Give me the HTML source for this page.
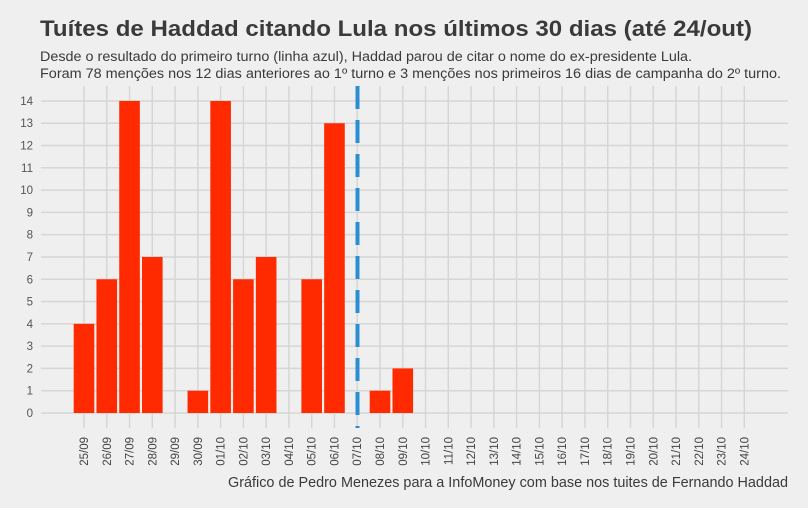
<!DOCTYPE html>
<html><head><meta charset="utf-8"><style>
html,body{margin:0;padding:0;background:#efefef;}
svg{display:block;font-family:"Liberation Sans",sans-serif;}
</style></head><body>
<svg width="808" height="508" viewBox="0 0 808 508" xmlns="http://www.w3.org/2000/svg">
<rect width="808" height="508" fill="#efefef"/>
<text x="40" y="36" font-size="22" font-weight="bold" fill="#3a3a3a" textLength="712" lengthAdjust="spacingAndGlyphs">Tuítes de Haddad citando Lula nos últimos 30 dias (até 24/out)</text>
<text x="40" y="61" font-size="13.5" fill="#3a3a3a" textLength="652" lengthAdjust="spacingAndGlyphs">Desde o resultado do primeiro turno (linha azul), Haddad parou de citar o nome do ex-presidente Lula.</text>
<text x="40" y="78" font-size="13.5" fill="#3a3a3a" textLength="741" lengthAdjust="spacingAndGlyphs">Foram 78 menções nos 12 dias anteriores ao 1º turno e 3 menções nos primeiros 16 dias de campanha do 2º turno.</text>
<g id="grid" stroke="#d6d6d6" stroke-width="1.5"></g>
<g id="ylab" font-size="11.5" fill="#555" text-anchor="end"></g>
<g id="bars" fill="#ff2a00"></g>
<line x1="357.5" y1="86" x2="357.5" y2="428" stroke="#2a8fd0" stroke-width="4" stroke-dasharray="23 11"/>
<g id="xlab" font-size="11.5" fill="#444"></g>
<text x="228" y="487" font-size="14.5" fill="#3a3a3a" textLength="560" lengthAdjust="spacingAndGlyphs">Gráfico de Pedro Menezes para a InfoMoney com base nos tuites de Fernando Haddad</text>
<script>
var ns="http://www.w3.org/2000/svg";
function el(p,t,a,txt){var e=document.createElementNS(ns,t);for(var k in a)e.setAttribute(k,a[k]);if(txt)e.textContent=txt;document.getElementById(p).appendChild(e);}
var y0=413,u=22.29,x0=84,dx=22.77;
for(var i=0;i<=14;i++){var y=y0-i*u;el("grid","line",{x1:41,x2:788,y1:y,y2:y});el("ylab","text",{x:33,y:y+4},String(i));}
var d=["25/09","26/09","27/09","28/09","29/09","30/09","01/10","02/10","03/10","04/10","05/10","06/10","07/10","08/10","09/10","10/10","11/10","12/10","13/10","14/10","15/10","16/10","17/10","18/10","19/10","20/10","21/10","22/10","23/10","24/10"];
var v=[4,6,14,7,0,1,14,6,7,0,6,13,0,1,2];
for(var j=0;j<30;j++){var x=x0+j*dx;el("grid","line",{x1:x,x2:x,y1:86,y2:428});
el("xlab","text",{x:0,y:0,transform:"translate("+(x+4)+",437) rotate(-90)","text-anchor":"end"},d[j]);
if(v[j])el("bars","rect",{x:x-10.3,y:y0-v[j]*u,width:20.6,height:v[j]*u});}
</script>
</svg>
</body></html>
